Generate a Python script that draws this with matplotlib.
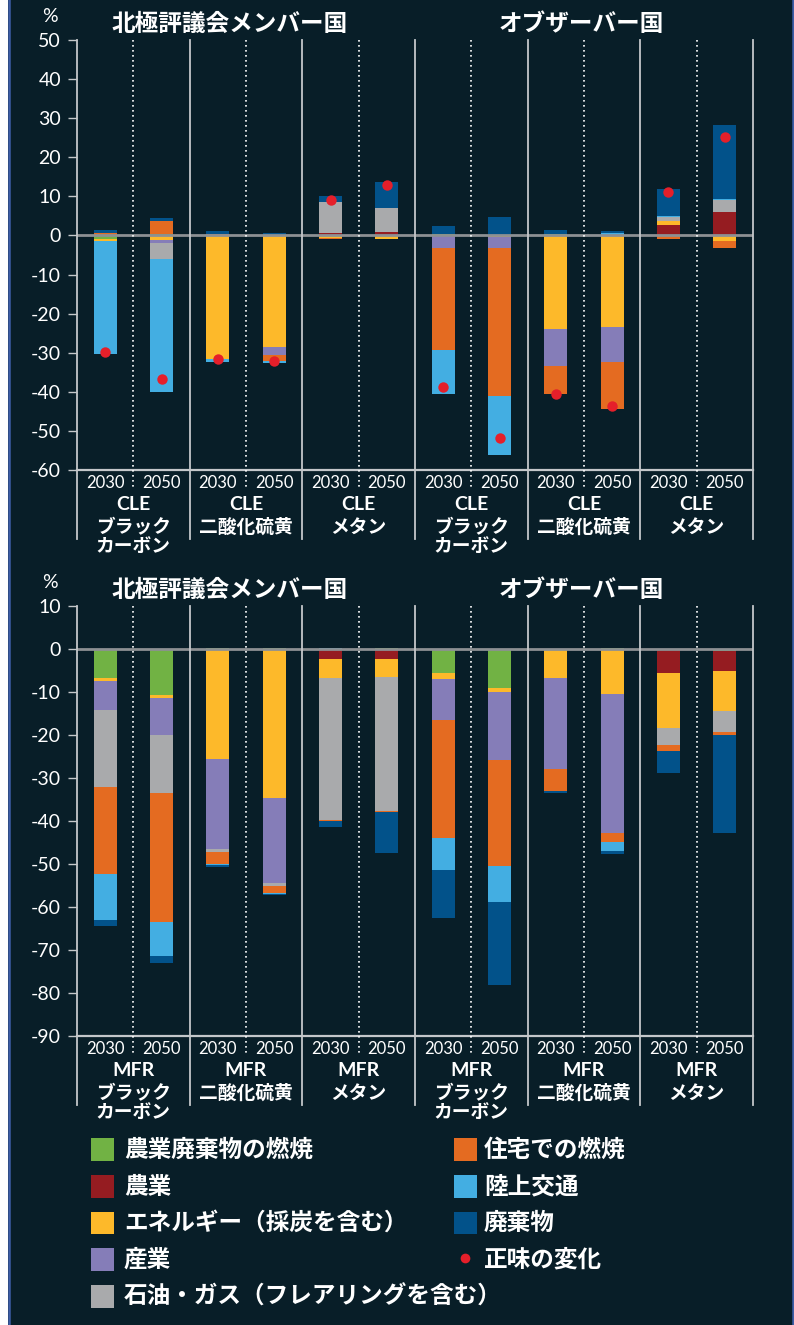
import matplotlib
matplotlib.use('Agg')
import matplotlib.pyplot as plt
import matplotlib.transforms as mtransforms
from matplotlib.patches import Rectangle
from matplotlib.lines import Line2D
import numpy as np

plt.rcParams['font.family'] = ['Noto Sans CJK JP', 'DejaVu Sans']

W, H = 794, 1325
DPI = 100

BG = '#081e28'
TXT = '#ffffff'
LINE = '#c4c7ca'

categories = ['農業廃棄物の燃焼', '農業', 'エネルギー（採炭を含む）', '産業',
              '石油・ガス（フレアリングを含む）', '住宅での燃焼', '陸上交通', '廃棄物']
colors = ['#71b244', '#951c21', '#fdb92a', '#857db8',
          '#a9aaac', '#e46b21', '#43aee2', '#02528a']
net_label = '正味の変化'

years = ['2030', '2050'] * 6
pollutants = ['ブラック\nカーボン', '二酸化硫黄', 'メタン'] * 2
groups = ['北極評議会メンバー国', 'オブザーバー国']

# ---- CLE scenario (top panel), 12 bars ----
cle_agri_waste = [-0.9, 0.5, 0, 0, 0, 0, 0.3, 0, 0.4, 0, 0, 0]
cle_agriculture = [0, 0, 0, 0, 0.7, 0.9, 0, 0, 0, 0, 2.6, 6.0]
cle_energy = [-0.5, -1.1, -31.6, -28.6, -0.7, -0.8, 0, -0.4, -24.0, -23.4, 1.05, -1.5]
cle_industry = [0, -0.9, 0, -2.1, 0, 0, -3.2, -2.7, -9.4, -8.9, 0, 0]
cle_oil_gas = [0, -4.1, 0, 0, 7.9, 6.0, 0, 0, 0, 0, 1.0, 3.0]
cle_residential = [0.6, 3.1, 0.5, -1.4, -0.3, -0.2, -26.1, -38.0, -7.2, -12.1, -0.9, -1.6]
cle_transport = [-28.9, -33.9, -0.7, -0.5, 0, 0, -11.3, -15.1, 0, 0.6, 0.35, 0.4]
cle_waste = [0.7, 0.8, 0.7, 0.6, 1.6, 6.9, 2.0, 4.6, 0.9, 0.5, 6.9, 18.9]
cle_net = [-29.8, -36.6, -31.7, -32.2, 9.0, 12.9, -38.7, -51.7, -40.6, -43.6, 11.1, 25.1]

# ---- MFR scenario (bottom panel), 12 bars ----
mfr_agri_waste = [-6.7, -10.7, 0.3, 0.2, 0, 0.2, -5.6, -9.1, 0, 0.2, -0.3, -0.5]
mfr_agriculture = [0, 0, 0, 0, -2.3, -2.3, 0, 0, 0, 0, -5.3, -4.6]
mfr_energy = [-0.7, -0.7, -25.6, -34.65, -4.4, -4.2, -1.4, -0.9, -6.7, -10.5, -12.7, -9.3]
mfr_industry = [-6.8, -8.6, -20.9, -19.75, 0, 0, -9.5, -15.8, -21.2, -32.4, 0, 0]
mfr_oil_gas = [-17.9, -13.5, -0.6, -0.7, -33.0, -31.1, 0, 0, 0, 0, -4.0, -4.8]
mfr_residential = [-20.2, -30.0, -2.9, -1.7, -0.3, -0.3, -27.45, -24.7, -5.1, -1.9, -1.4, -0.8]
mfr_transport = [-10.7, -7.9, -0.3, -0.2, 0.2, 0, -7.45, -8.3, 0, -2.2, 0, 0]
mfr_waste = [-1.4, -1.6, -0.3, -0.2, -1.4, -9.5, -11.1, -19.3, -0.6, -0.7, -5.1, -22.8]

cle_series = [cle_agri_waste, cle_agriculture, cle_energy, cle_industry,
              cle_oil_gas, cle_residential, cle_transport, cle_waste]
mfr_series = [mfr_agri_waste, mfr_agriculture, mfr_energy, mfr_industry,
              mfr_oil_gas, mfr_residential, mfr_transport, mfr_waste]

cle_ticks = list(range(-60, 51, 10))
mfr_ticks = list(range(-90, 11, 10))

fig = plt.figure(figsize=(W / DPI, H / DPI), dpi=DPI, facecolor='white')

# dark background panel with blue side borders
fig.add_artist(Rectangle((8 / W, 0), (W - 8) / W, 1, transform=fig.transFigure,
                         facecolor=BG, edgecolor='none', zorder=0))
fig.add_artist(Line2D([9 / W, 9 / W], [0, 1], transform=fig.transFigure,
                      color='#3d5da6', lw=1.8, zorder=1))
fig.add_artist(Line2D([793 / W, 793 / W], [0, 1], transform=fig.transFigure,
                      color='#3d5da6', lw=1.8, zorder=1))


def fx(px):
    return px / W


def fy(py):
    return 1 - py / H


def draw_panel(top_px, series, ylim, ticks, scen, net=None):
    left_px, right_px = 77, 753
    height_px = 430
    ax = fig.add_axes([fx(left_px), fy(top_px + height_px),
                       (right_px - left_px) / W, height_px / H])
    ax.set_facecolor('none')
    x = np.arange(12)
    pos = np.zeros(12)
    neg = np.zeros(12)
    for vals, col in zip(series, colors):
        v = np.array(vals, dtype=float)
        bottoms = np.where(v >= 0, pos, neg)
        ax.bar(x, v, width=0.41, bottom=bottoms, color=col, linewidth=0, zorder=2)
        pos = pos + np.where(v > 0, v, 0)
        neg = neg + np.where(v < 0, v, 0)
    ax.axhline(0, color='#8d9093', lw=2.0, zorder=3)
    if net is not None:
        ax.plot(x, net, 'o', color='#e51f2a', markersize=7.5, markeredgewidth=0, zorder=5)
    ax.set_xlim(-0.5, 11.5)
    ax.set_ylim(*ylim)
    ax.set_yticks(ticks)
    ax.set_yticklabels([str(t) for t in ticks], fontsize=14, color=TXT, family='Lato')
    ax.tick_params(axis='y', length=6.5, width=1, color=LINE, pad=5)
    ax.set_xticks([])
    for s in ['top', 'right', 'left']:
        ax.spines[s].set_visible(False)
    ax.spines['bottom'].set_color(LINE)
    ax.spines['bottom'].set_linewidth(1.6)
    trans = mtransforms.blended_transform_factory(ax.transData, ax.transAxes)
    for xb in [-0.5, 1.5, 3.5, 5.5, 7.5, 9.5, 11.5]:
        ax.plot([xb, xb], [1, -0.16], transform=trans, clip_on=False,
                color=LINE, lw=1.3, zorder=4)
    for xd in [0.5, 2.5, 4.5, 6.5, 8.5, 10.5]:
        ax.plot([xd, xd], [1, -0.047], transform=trans, clip_on=False,
                color='white', lw=1.2, linestyle=(0, (1.0, 2.0)), zorder=4)
    # labels under the axis
    bottom_px = top_px + height_px
    for i, yr in enumerate(years):
        xpx = left_px + (i + 0.5) * (right_px - left_px) / 12
        fig.text(fx(xpx), fy(bottom_px + 13), yr, ha='center', va='center',
                 fontsize=12, color=TXT, family='Lato')
    for g in range(6):
        xpx = left_px + (2 * g + 1) * (right_px - left_px) / 12
        fig.text(fx(xpx), fy(bottom_px + 34), scen, ha='center', va='center',
                 fontsize=14, color=TXT, family='Lato', weight='bold')
        fig.text(fx(xpx), fy(bottom_px + 48), pollutants[g], ha='center', va='top',
                 fontsize=13.5, color=TXT, linespacing=1.0, weight='bold')
    # titles and unit
    fig.text(fx(230), fy(top_px - 16), groups[0], ha='center', va='center',
             fontsize=17, weight='bold', color=TXT)
    fig.text(fx(581), fy(top_px - 16), groups[1], ha='center', va='center',
             fontsize=17, weight='bold', color=TXT)
    fig.text(fx(50), fy(top_px - 23), '%', ha='center', va='center',
             fontsize=14, color=TXT, family='Lato')
    return ax


draw_panel(40, cle_series, (-60, 50), cle_ticks, 'CLE', net=cle_net)
draw_panel(606, mfr_series, (-90, 10), mfr_ticks, 'MFR')

# legend
left_items = [0, 1, 2, 3, 4]
right_items = [5, 6, 7]
row_y = [1149.5, 1186.5, 1223, 1259.5, 1296.7]
for r, ci in enumerate(left_items):
    fig.add_artist(Rectangle((fx(91), fy(row_y[r] + 11.3)), 23 / W, 22.6 / H,
                             transform=fig.transFigure, facecolor=colors[ci],
                             edgecolor='none'))
    fig.text(fx(124), fy(row_y[r]), categories[ci], ha='left', va='center',
             fontsize=17, color=TXT, weight='bold')
for r, ci in enumerate(right_items):
    fig.add_artist(Rectangle((fx(454), fy(row_y[r] + 11.3)), 23 / W, 22.6 / H,
                             transform=fig.transFigure, facecolor=colors[ci],
                             edgecolor='none'))
    fig.text(fx(484), fy(row_y[r]), categories[ci], ha='left', va='center',
             fontsize=17, color=TXT, weight='bold')
fig.add_artist(Line2D([fx(465)], [fy(1258)], transform=fig.transFigure, marker='o',
                      markersize=7, color='#e51f2a', markeredgewidth=0, linestyle='none'))
fig.text(fx(484), fy(row_y[3]), net_label, ha='left', va='center', fontsize=17,
         color=TXT, weight='bold')

fig.savefig('out.png', dpi=DPI, facecolor=fig.get_facecolor())
